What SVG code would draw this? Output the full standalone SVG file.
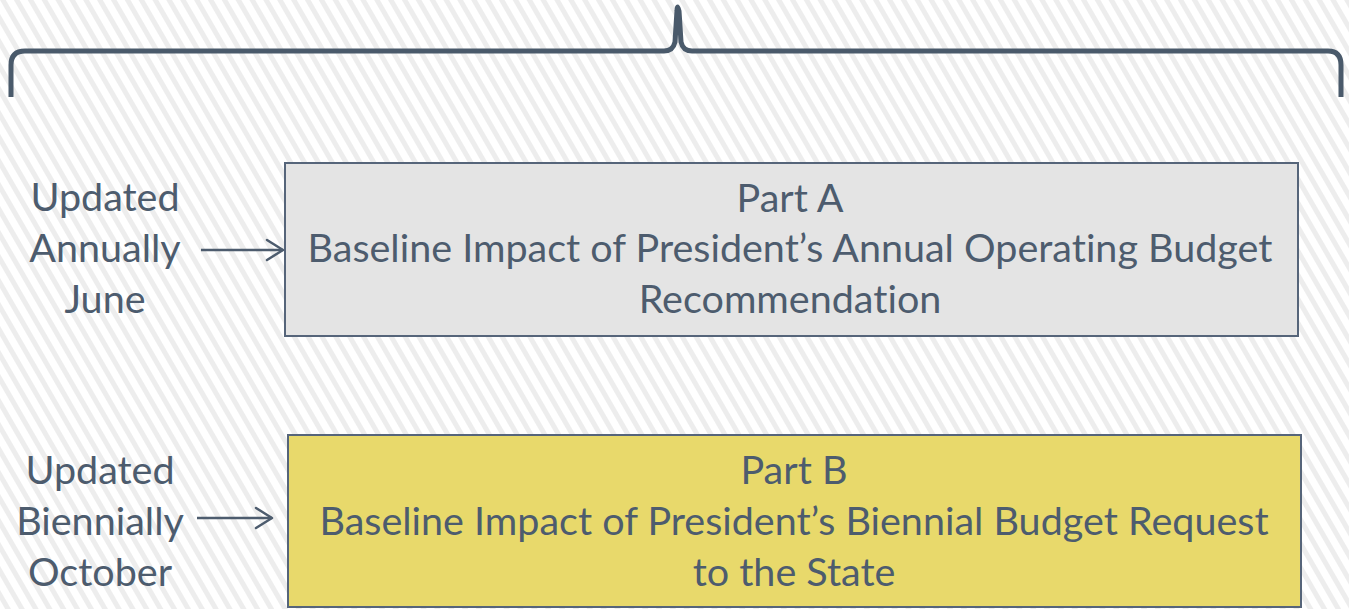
<svg xmlns="http://www.w3.org/2000/svg" width="1349" height="609" viewBox="0 0 1349 609">
  <defs>
    <pattern id="stripes" patternUnits="userSpaceOnUse" width="12" height="12" patternTransform="rotate(-30)">
      <rect width="12" height="12" fill="#ffffff"/>
      <rect width="5" height="12" fill="#ededed"/>
    </pattern>
    <marker id="arrow" markerWidth="20" markerHeight="24" refX="18" refY="12" orient="auto" markerUnits="userSpaceOnUse">
      <path d="M2,2 L18,12 L2,22" fill="none" stroke="#4d5c6e" stroke-width="2.5" stroke-linecap="round" stroke-linejoin="round"/>
    </marker>
    <style>
      .txt { font-family: Lato, "Open Sans", sans-serif; font-size: 39.5px; fill: #4d5c6e; text-anchor: middle; font-variant-ligatures: none; }
      .box { stroke: #56657a; stroke-width: 2; }
      .conn { stroke: #4d5c6e; stroke-width: 2.5; fill: none; }
    </style>
  </defs>

  <!-- striped background -->
  <rect width="1349" height="609" fill="url(#stripes)"/>

  <!-- curly brace spanning both parts -->
  <g id="brace">
    <path d="M11,97 L11,65 Q11,51 25,51 L664,51 Q673,51 675,42 L677,11 Q677,3 679,11 L681,42 Q683,51 692,51 L1328,51 Q1341,51 1341,65 L1341,97" fill="none" stroke="#4a5a6b" stroke-width="5" stroke-linejoin="round" stroke-linecap="butt"/>
  </g>

  <!-- Part A -->
  <g id="part-a">
    <rect class="box" x="285" y="163" width="1013" height="173" fill="#e4e4e4"/>
    <text class="txt" x="790" y="212">Part A</text>
    <text class="txt" x="790" y="262">Baseline Impact of President’s Annual Operating Budget</text>
    <text class="txt" x="790" y="313">Recommendation</text>
  </g>

  <!-- Part B -->
  <g id="part-b">
    <rect class="box" x="288" y="435" width="1013" height="172" fill="#e8d96b"/>
    <text class="txt" x="794" y="484">Part B</text>
    <text class="txt" x="794" y="535">Baseline Impact of President’s Biennial Budget Request</text>
    <text class="txt" x="794" y="586">to the State</text>
  </g>

  <!-- schedule labels -->
  <g id="label-a">
    <text class="txt" x="105" y="211">Updated</text>
    <text class="txt" x="105" y="262">Annually</text>
    <text class="txt" x="105" y="313">June</text>
  </g>
  <g id="label-b">
    <text class="txt" x="100" y="484">Updated</text>
    <text class="txt" x="100" y="535">Biennially</text>
    <text class="txt" x="100" y="586">October</text>
  </g>

  <!-- connectors -->
  <g id="connectors">
    <line class="conn" x1="201" y1="250" x2="283" y2="250" marker-end="url(#arrow)"/>
    <line class="conn" x1="197" y1="518" x2="272" y2="518" marker-end="url(#arrow)"/>
  </g>
</svg>
